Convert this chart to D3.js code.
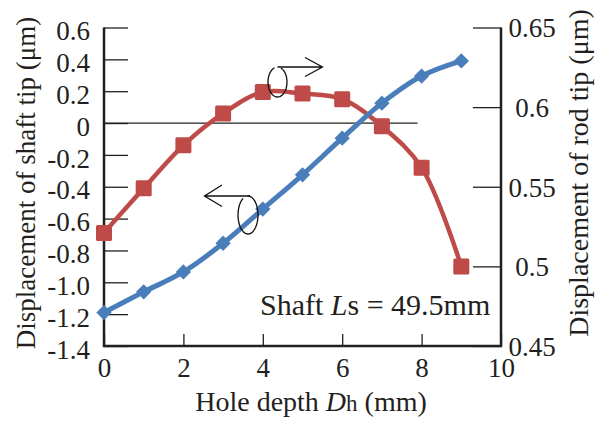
<!DOCTYPE html>
<html>
<head>
<meta charset="utf-8">
<script src="https://cdn.jsdelivr.net/npm/d3@7"></script>
<style>
  body { margin: 0; background: #fff; }
</style>
</head>
<body>
<div class="chart-div"></div>
<script>

//--------------------------- Data

var depth = [0, 1, 2, 3, 4, 5, 6, 7, 8, 9];
var shaftTip = [-1.19, -1.06, -0.935, -0.755, -0.54, -0.325, -0.095, 0.125, 0.295, 0.39];
var rodTip = [0.521, 0.549, 0.576, 0.596, 0.6095, 0.6085, 0.605, 0.588, 0.562, 0.5];

var xTicks = [0, 2, 4, 6, 8, 10];
var leftTicks = [0.6, 0.4, 0.2, 0, -0.2, -0.4, -0.6, -0.8, -1.0, -1.2, -1.4];
var leftLabels = ["0.6", "0.4", "0.2", "0", "-0.2", "-0.4", "-0.6", "-0.8", "-1.0", "-1.2", "-1.4"];
var rightTicks = [0.65, 0.6, 0.55, 0.5, 0.45];
var rightLabels = ["0.65", "0.6", "0.55", "0.5", "0.45"];

//--------------------------- SVG definition

var width = 605;
var height = 421;
var plotLeft = 104, plotRight = 501, plotTop = 27.5, plotBottom = 346;

var svg = d3.select("div.chart-div")
    .append("svg")
    .attr("width", width)
    .attr("height", height)

var font = "Liberation Serif, Times New Roman, serif";
var ink = "#231f20";
var red = "#be4b48";
var blue = "#4a7ebb";

var x = d3.scaleLinear().domain([0, 10]).range([plotLeft, plotRight]);
var yL = d3.scaleLinear().domain([-1.4, 0.6]).range([plotBottom, plotTop]);
var yR = d3.scaleLinear().domain([0.45, 0.65]).range([plotBottom, plotTop]);

//--------------------------- Groups definition

var axes = svg.append("g")
var lines = svg.append("g")
var notes = svg.append("g")

//--------------------------- Zero line

axes.append("line")
    .attr("x1", x(0)).attr("x2", x(7.9))
    .attr("y1", yL(0)).attr("y2", yL(0))
    .attr("stroke", ink).attr("stroke-width", 1.2)

//--------------------------- Axes

var xAxis = d3.axisBottom(x).tickValues(xTicks).tickSize(-12).tickPadding(20).tickFormat(d3.format("d"));
var gx = axes.append("g").attr("transform", "translate(0," + plotBottom + ")").call(xAxis);

var lAxis = d3.axisLeft(yL).tickValues(leftTicks).tickSize(-24).tickPadding(14)
    .tickFormat(function (d, i) { return leftLabels[i]; });
var gl = axes.append("g").attr("transform", "translate(" + plotLeft + ",0)").call(lAxis);

var rAxis = d3.axisRight(yR).tickValues(rightTicks).tickSize(-28).tickPadding(31)
    .tickFormat(function (d, i) { return rightLabels[i]; });
var gr = axes.append("g").attr("transform", "translate(" + plotRight + ",0)").call(rAxis);

[gx, gl, gr].forEach(function (g) {
    g.select(".domain").remove();
    g.selectAll(".tick line").attr("stroke", ink).attr("stroke-width", 1.3);
    g.selectAll(".tick text")
        .attr("font-family", font)
        .attr("font-size", 27)
        .attr("fill", ink);
});
gx.selectAll(".tick text").attr("dy", "0.42em");
gl.selectAll(".tick text").attr("dy", "0.45em");
gr.selectAll(".tick text").attr("text-anchor", "middle").attr("dy", "0.35em");

// frame: left, bottom, right
axes.append("path")
    .attr("d", "M" + plotLeft + "," + plotTop + "V" + plotBottom + "H" + plotRight + "V" + plotTop)
    .attr("fill", "none")
    .attr("stroke", ink)
    .attr("stroke-width", 2.5)

//--------------------------- Axis titles

axes.append("text")
    .attr("transform", "translate(35,183) rotate(-90)")
    .attr("text-anchor", "middle")
    .attr("font-family", font).attr("font-size", 27).attr("fill", ink)
    .text("Displacement of shaft tip (\u03bcm)")

axes.append("text")
    .attr("transform", "translate(588,173) rotate(-90)")
    .attr("text-anchor", "middle")
    .attr("font-family", font).attr("font-size", 28).attr("fill", ink)
    .text("Displacement of rod tip (\u03bcm)")

var xt = axes.append("text")
    .attr("x", 311).attr("y", 411)
    .attr("text-anchor", "middle")
    .attr("font-family", font).attr("font-size", 28).attr("fill", ink)
xt.append("tspan").text("Hole depth ")
xt.append("tspan").attr("font-style", "italic").text("D")
xt.append("tspan").attr("font-size", 23).text("h")
xt.append("tspan").text(" (mm)")

//--------------------------- Series lines

var lineL = d3.line()
    .x(function (d, i) { return x(depth[i]); })
    .y(function (d) { return yL(d); })
    .curve(d3.curveCatmullRom.alpha(0.5));

var lineR = d3.line()
    .x(function (d, i) { return x(depth[i]); })
    .y(function (d) { return yR(d); })
    .curve(d3.curveCatmullRom.alpha(0.5));

lines.append("path")
    .attr("d", lineR(rodTip))
    .attr("fill", "none").attr("stroke", red).attr("stroke-width", 4.5)

lines.append("path")
    .attr("d", lineL(shaftTip))
    .attr("fill", "none").attr("stroke", blue).attr("stroke-width", 5)

//--------------------------- Markers

lines.selectAll("rect.rod").data(rodTip).enter()
    .append("rect")
    .attr("class", "rod")
    .attr("x", function (d, i) { return x(depth[i]) - 8; })
    .attr("y", function (d) { return yR(d) - 8; })
    .attr("width", 16).attr("height", 16)
    .attr("rx", 1.5)
    .attr("fill", red)

lines.selectAll("path.shaft").data(shaftTip).enter()
    .append("path")
    .attr("class", "shaft")
    .attr("d", d3.symbol().type(d3.symbolDiamond2).size(150))
    .attr("transform", function (d, i) { return "translate(" + x(depth[i]) + "," + yL(d) + ")"; })
    .attr("fill", blue)

//--------------------------- Arrows with loops

function loop(cx, cy, rx, ry, a0, a1) {
    var p = d3.path();
    for (var k = 0; k <= 40; k++) {
        var a = a0 + (a1 - a0) * k / 40;
        var px = cx + rx * Math.cos(a), py = cy + ry * Math.sin(a);
        if (k == 0) p.moveTo(px, py); else p.lineTo(px, py);
    }
    return p.toString();
}

// right-pointing arrow (rod tip -> right axis)
notes.append("path")
    .attr("d", loop(277.5, 82, 9.5, 15, -1.2, 4.4))
    .attr("fill", "none").attr("stroke", "#111").attr("stroke-width", 1.3)
notes.append("path")
    .attr("d", "M277.5,67H322.5M305,57.5L322.5,67L305,76.5")
    .attr("fill", "none").attr("stroke", "#111").attr("stroke-width", 1.3)

// left-pointing arrow (shaft tip -> left axis)
notes.append("path")
    .attr("d", loop(248, 215, 10, 19, -1.6, 4.2))
    .attr("fill", "none").attr("stroke", "#111").attr("stroke-width", 1.3)
notes.append("path")
    .attr("d", "M250,196H204.5M222,185L204.5,196L222,206.5")
    .attr("fill", "none").attr("stroke", "#111").attr("stroke-width", 1.3)

//--------------------------- Label

var lab = notes.append("text")
    .attr("x", 260).attr("y", 315)
    .attr("font-family", font).attr("font-size", 30).attr("fill", ink)
lab.append("tspan").text("Shaft ")
lab.append("tspan").attr("font-style", "italic").text("L")
lab.append("tspan").text("s = 49.5mm")

</script>
</body>
</html>
